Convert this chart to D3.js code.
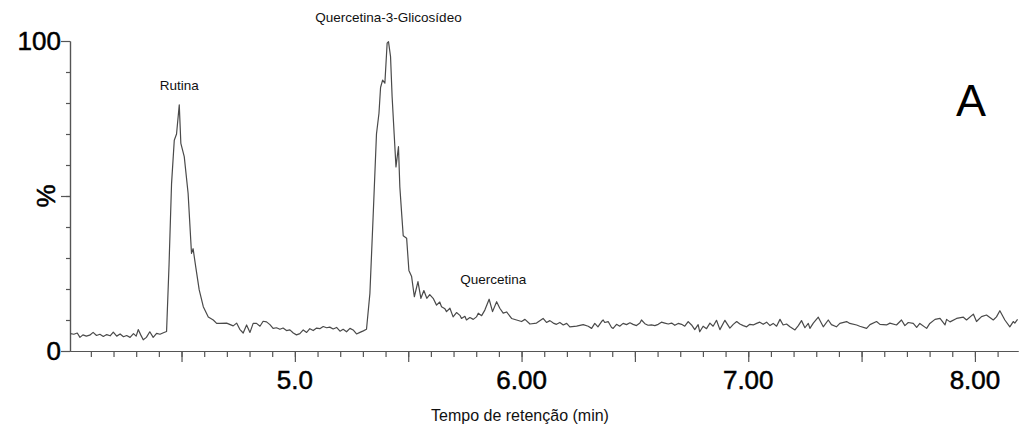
<!DOCTYPE html>
<html>
<head>
<meta charset="utf-8">
<script src="https://cdn.jsdelivr.net/npm/d3@7"></script>
<style>
  body { margin: 0; background: #fff; }
  svg { display: block; font-family: "Liberation Sans", Arial, sans-serif; }
</style>
</head>
<body>
<div id="chart"></div>
<script>
// retention time (min)
var times = [
  4.010, 4.025, 4.040, 4.052, 4.065, 4.080, 4.095, 4.110, 4.125, 4.140,
  4.155, 4.170, 4.185, 4.199, 4.214, 4.229, 4.244, 4.258, 4.273, 4.288,
  4.300, 4.309, 4.320, 4.331, 4.345, 4.360, 4.375, 4.390, 4.405, 4.420,
  4.434, 4.445, 4.456, 4.468, 4.478, 4.490, 4.497, 4.512, 4.529, 4.544,
  4.551, 4.563, 4.578, 4.596, 4.618, 4.640, 4.655, 4.669, 4.699, 4.728,
  4.743, 4.757, 4.772, 4.787, 4.802, 4.816, 4.831, 4.846, 4.860, 4.875,
  4.890, 4.904, 4.919, 4.934, 4.948, 4.963, 4.978, 4.993, 5.007, 5.022,
  5.037, 5.052, 5.066, 5.081, 5.096, 5.110, 5.125, 5.140, 5.154, 5.169,
  5.184, 5.199, 5.213, 5.228, 5.243, 5.257, 5.272, 5.287, 5.302, 5.316,
  5.331, 5.345, 5.360, 5.371, 5.378, 5.387, 5.397, 5.407, 5.413, 5.422,
  5.429, 5.438, 5.446, 5.457, 5.463, 5.471, 5.478, 5.493, 5.503, 5.515,
  5.527, 5.543, 5.556, 5.569, 5.582, 5.595, 5.610, 5.625, 5.639, 5.647,
  5.662, 5.669, 5.684, 5.698, 5.713, 5.728, 5.735, 5.750, 5.757, 5.772,
  5.787, 5.801, 5.809, 5.824, 5.838, 5.857, 5.872, 5.890, 5.904, 5.919,
  5.934, 5.956, 5.978, 6.000, 6.015, 6.037, 6.066, 6.095, 6.110, 6.125,
  6.140, 6.154, 6.169, 6.184, 6.199, 6.213, 6.243, 6.272, 6.294, 6.309,
  6.323, 6.337, 6.353, 6.360, 6.367, 6.382, 6.397, 6.404, 6.419, 6.433,
  6.448, 6.463, 6.478, 6.492, 6.507, 6.522, 6.529, 6.544, 6.558, 6.573,
  6.588, 6.603, 6.617, 6.632, 6.647, 6.662, 6.676, 6.691, 6.706, 6.720,
  6.735, 6.750, 6.764, 6.779, 6.786, 6.801, 6.816, 6.831, 6.845, 6.860,
  6.875, 6.897, 6.919, 6.934, 6.949, 6.963, 6.978, 6.993, 7.007, 7.022,
  7.037, 7.051, 7.066, 7.081, 7.096, 7.110, 7.125, 7.140, 7.154, 7.169,
  7.184, 7.206, 7.221, 7.235, 7.250, 7.265, 7.272, 7.287, 7.309, 7.331,
  7.353, 7.367, 7.389, 7.404, 7.434, 7.448, 7.478, 7.492, 7.522, 7.537,
  7.566, 7.581, 7.610, 7.625, 7.654, 7.676, 7.691, 7.706, 7.728, 7.743,
  7.757, 7.787, 7.801, 7.824, 7.846, 7.868, 7.875, 7.890, 7.919, 7.949,
  7.963, 7.993, 8.007, 8.029, 8.051, 8.066, 8.081, 8.095, 8.110, 8.132,
  8.154, 8.169, 8.176, 8.188
];

// relative intensity (%)
var intensity = [
  5.6, 5.4, 5.8, 4.4, 5.2, 4.8, 5.1, 6.0, 5.0, 5.4,
  4.7, 5.3, 4.9, 6.1, 4.8, 5.5, 4.6, 5.0, 4.4, 5.6,
  4.8, 6.9, 5.2, 3.6, 4.4, 6.2, 4.4, 5.7, 5.4, 5.9,
  6.3, 28.0, 54.0, 68.0, 70.0, 79.4, 67.0, 62.7, 50.9, 31.5,
  33.0, 27.0, 19.7, 14.3, 11.0, 10.0, 8.9, 8.9, 9.0, 8.1,
  9.0, 7.0, 5.8, 8.4, 6.0, 8.9, 8.9, 8.0, 9.6, 9.4,
  8.5, 7.3, 7.5, 7.0, 7.4, 6.6, 6.8, 5.8, 5.2, 5.6,
  6.8, 6.0, 7.2, 6.6, 7.4, 7.2, 7.9, 7.5, 7.7, 7.1,
  7.6, 6.4, 7.0, 6.2, 7.3, 6.8, 5.5, 6.0, 6.5, 7.0,
  18.6, 43.0, 70.0, 76.7, 85.0, 87.4, 86.4, 99.3, 99.8, 95.0,
  82.0, 70.0, 59.4, 65.9, 53.0, 44.4, 37.2, 36.4, 26.0, 24.0,
  17.5, 22.4, 17.0, 19.5, 17.0, 18.2, 17.0, 14.8, 15.8, 14.3,
  13.6, 12.7, 13.8, 11.0, 12.4, 11.5, 10.5, 11.2, 10.0, 10.8,
  10.2, 11.0, 12.2, 11.4, 13.2, 16.7, 12.7, 15.9, 13.8, 12.2,
  12.6, 10.5, 10.0, 9.5, 10.2, 8.7, 9.0, 10.5, 9.2, 9.8,
  9.0, 8.6, 9.2, 8.4, 8.9, 7.8, 8.0, 8.5, 8.0, 7.3,
  8.9, 7.8, 9.5, 10.0, 9.2, 9.5, 7.6, 7.3, 8.6, 8.0,
  8.9, 8.5, 9.1, 8.6, 8.2, 9.0, 10.0, 8.8, 8.3, 8.4,
  8.2, 8.6, 9.3, 9.0, 8.7, 9.0, 8.3, 8.9, 8.6, 8.0,
  9.5, 8.4, 6.9, 8.5, 6.2, 8.0, 7.2, 9.0, 8.0, 9.9,
  6.9, 9.9, 7.4, 8.6, 9.5, 8.7, 8.2, 7.8, 8.6, 8.4,
  8.9, 9.3, 8.6, 9.3, 8.2, 8.9, 8.0, 10.2, 8.4, 8.7,
  7.8, 6.8, 8.2, 9.8, 7.5, 8.9, 7.3, 9.0, 10.9, 7.8,
  10.0, 8.5, 7.8, 8.9, 9.5, 8.9, 8.4, 8.0, 7.3, 8.5,
  9.5, 8.6, 8.4, 9.0, 8.4, 10.0, 8.2, 9.2, 8.9, 7.6,
  8.9, 7.3, 8.9, 10.2, 10.5, 8.4, 10.2, 9.4, 10.5, 10.9,
  10.0, 11.9, 9.5, 11.1, 11.6, 10.8, 10.0, 11.0, 13.0, 10.0,
  7.8, 9.5, 9.0, 10.2
];

var peakNames = ["Rutina", "Quercetina-3-Glicosídeo", "Quercetina"];
var peakTimes = [4.490, 5.413, 5.875];
var peakHeights = [79.4, 99.8, 16.7];

var xTickValues = [5, 6, 7, 8];
var xTickLabels = ["5.0", "6.00", "7.00", "8.00"];
var yTickValues = [0, 100];
var yTickLabels = ["0", "100"];

var svgWidth = 1021;
var svgHeight = 428;

var svg = d3.select("#chart")
  .append("svg")
  .attr("width", svgWidth)
  .attr("height", svgHeight);

var xScale = d3.scaleLinear()
  .domain([4.008, 8.19])
  .range([70, 1018]);

var yScale = d3.scaleLinear()
  .domain([0, 100])
  .range([351, 41]);

var axisColor = "#555";

// x axis: minor ticks every 0.1, longer ones every 0.5
var xMinor = d3.axisBottom(xScale)
  .tickValues(d3.range(41, 82).map(d => d / 10))
  .tickSize(6)
  .tickSizeOuter(0)
  .tickFormat("");

var xMajor = d3.axisBottom(xScale)
  .tickValues(d3.range(9, 17).map(d => d / 2))
  .tickSize(11)
  .tickSizeOuter(0)
  .tickFormat("");

svg.append("g")
  .attr("transform", `translate(0, ${yScale(0)})`)
  .call(xMinor);
svg.append("g")
  .attr("transform", `translate(0, ${yScale(0)})`)
  .call(xMajor);

// y axis: minor ticks every 10, longer at 0, 50, 100
var yMinor = d3.axisLeft(yScale)
  .tickValues(d3.range(10, 100, 10))
  .tickSize(4)
  .tickSizeOuter(0)
  .tickFormat("");

var yMajor = d3.axisLeft(yScale)
  .tickValues([0, 50, 100])
  .tickSize(9)
  .tickSizeOuter(0)
  .tickFormat("");

svg.append("g")
  .attr("transform", `translate(${xScale.range()[0]}, 0)`)
  .call(yMinor);
svg.append("g")
  .attr("transform", `translate(${xScale.range()[0]}, 0)`)
  .call(yMajor);

svg.selectAll(".domain, .tick line")
  .attr("stroke", axisColor)
  .attr("stroke-width", 1.2);

// big tick labels, slightly heavier than regular weight
svg.selectAll(".xlabel")
  .data(xTickValues)
  .enter()
  .append("text")
  .attr("class", "xlabel")
  .attr("x", d => xScale(d))
  .attr("y", 389)
  .attr("text-anchor", "middle")
  .attr("font-size", 26)
  .attr("fill", "#000")
  .attr("stroke", "#000")
  .attr("stroke-width", 0.5)
  .text((d, i) => xTickLabels[i]);

svg.selectAll(".ylabel")
  .data(yTickValues)
  .enter()
  .append("text")
  .attr("class", "ylabel")
  .attr("x", 61)
  .attr("y", d => yScale(d))
  .attr("dy", "0.36em")
  .attr("text-anchor", "end")
  .attr("font-size", 26)
  .attr("fill", "#000")
  .attr("stroke", "#000")
  .attr("stroke-width", 0.5)
  .text((d, i) => yTickLabels[i]);

svg.append("text")
  .attr("transform", `translate(55, ${yScale(50)}) rotate(-90)`)
  .attr("text-anchor", "middle")
  .attr("font-size", 26)
  .attr("fill", "#000")
  .attr("stroke", "#000")
  .attr("stroke-width", 0.5)
  .text("%");

// chromatogram trace
var line = d3.line()
  .x((d, i) => xScale(times[i]))
  .y(d => yScale(d));

svg.append("path")
  .datum(intensity)
  .attr("fill", "none")
  .attr("stroke", "#4a4a4a")
  .attr("stroke-width", 1.2)
  .attr("stroke-linejoin", "round")
  .attr("d", line);

// peak labels
var labelLift = [15, 20, 15];
svg.selectAll(".peak")
  .data(peakNames)
  .enter()
  .append("text")
  .attr("class", "peak")
  .attr("x", (d, i) => xScale(peakTimes[i]))
  .attr("y", (d, i) => yScale(peakHeights[i]) - labelLift[i])
  .attr("text-anchor", "middle")
  .attr("font-size", 13.5)
  .attr("fill", "#111")
  .text(d => d);

// panel letter
svg.append("text")
  .attr("x", 971)
  .attr("y", 116)
  .attr("text-anchor", "middle")
  .attr("font-size", 45)
  .attr("fill", "#000")
  .text("A");

// axis title
svg.append("text")
  .attr("x", 520)
  .attr("y", 421)
  .attr("text-anchor", "middle")
  .attr("font-size", 16)
  .attr("fill", "#111")
  .text("Tempo de retenção (min)");
</script>
</body>
</html>
